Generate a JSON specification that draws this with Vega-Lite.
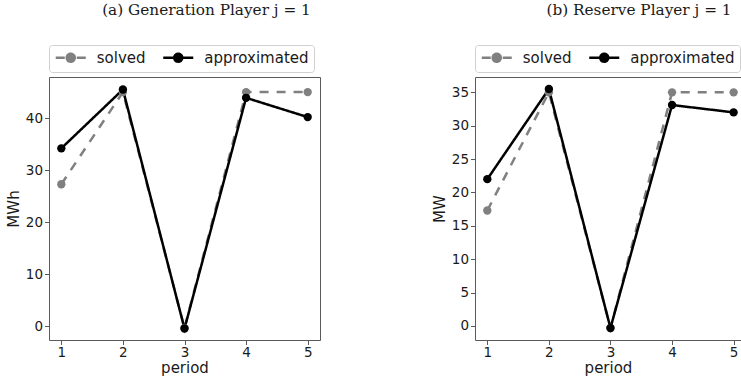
{
  "$schema": "https://vega.github.io/schema/vega-lite/v6.json",
  "padding": {"left": 5, "right": 0, "top": 2, "bottom": 2},
  "datasets": {
    "gen": [
      {"period": 1, "value": 27.3, "series": "solved"},
      {"period": 2, "value": 45.0, "series": "solved"},
      {"period": 3, "value": -0.3, "series": "solved"},
      {"period": 4, "value": 45.0, "series": "solved"},
      {"period": 5, "value": 45.0, "series": "solved"},
      {"period": 1, "value": 34.2, "series": "approximated"},
      {"period": 2, "value": 45.5, "series": "approximated"},
      {"period": 3, "value": -0.4, "series": "approximated"},
      {"period": 4, "value": 43.9, "series": "approximated"},
      {"period": 5, "value": 40.2, "series": "approximated"}
    ],
    "res": [
      {"period": 1, "value": 17.3, "series": "solved"},
      {"period": 2, "value": 35.0, "series": "solved"},
      {"period": 3, "value": -0.3, "series": "solved"},
      {"period": 4, "value": 35.0, "series": "solved"},
      {"period": 5, "value": 35.0, "series": "solved"},
      {"period": 1, "value": 22.0, "series": "approximated"},
      {"period": 2, "value": 35.5, "series": "approximated"},
      {"period": 3, "value": -0.3, "series": "approximated"},
      {"period": 4, "value": 33.1, "series": "approximated"},
      {"period": 5, "value": 32.0, "series": "approximated"}
    ]
  },
  "spacing": 110,
  "config": {
    "font": "DejaVu Sans",
    "view": {"stroke": "#5a5a5a", "strokeWidth": 1},
    "axis": {
      "grid": false, "domain": false, "tickColor": "#5a5a5a", "tickSize": 4.5,
      "labelFontSize": 13.5, "labelColor": "#1a1a1a", "labelPadding": 2,
      "titleFontSize": 15, "titleFontWeight": "normal", "titleColor": "#1a1a1a",
      "labelFont": "DejaVu Sans", "titleFont": "DejaVu Sans", "titlePadding": 4
    },
    "axisX": {"labelPadding": 1, "titlePadding": 1},
    "legend": {
      "orient": "top", "direction": "horizontal", "title": null,
      "symbolSize": 100, "symbolStrokeWidth": 2.5, "symbolOffset": 9.25,
      "labelOffset": 18.5, "columnPadding": 11.5, "padding": 5,
      "labelFontSize": 15, "labelFont": "DejaVu Sans", "labelColor": "#1a1a1a",
      "strokeColor": "#d0d0d0", "fillColor": "#ffffff", "cornerRadius": 3, "offset": 5
    },
    "title": {"font": "DejaVu Serif", "fontSize": 15.3, "fontWeight": "normal", "color": "#1a1a1a"}
  },
  "resolve": {"legend": {"color": "independent"}},
  "hconcat": [
    {
      "title": {"text": "(a) Generation Player j = 1", "dx": 22, "offset": 26},
      "width": 271, "height": 263,
      "data": {"name": "gen"},
      "mark": {"type": "line", "strokeWidth": 2.5, "point": {"filled": true, "size": 70}},
      "encoding": {
        "x": {"field": "period", "type": "quantitative", "scale": {"domain": [0.8, 5.2], "nice": false, "zero": false}, "axis": {"values": [1, 2, 3, 4, 5], "format": "d", "title": "period"}},
        "y": {"field": "value", "type": "quantitative", "scale": {"domain": [-2.6, 47.9], "nice": false, "zero": false}, "axis": {"values": [0, 10, 20, 30, 40], "title": "MWh"}},
        "color": {"field": "series", "type": "nominal", "sort": ["solved", "approximated"],
          "scale": {"domain": ["solved", "approximated"], "range": ["#808080", "#000000"]},
          "legend": {"encode": {"symbols": {"update": {
            "shape": [{"test": "datum.value === 'solved'", "value": "M-3,0L-1.2,0M1.2,0L3,0M0.8,0A0.8,0.8 0 1,1 -0.8,0A0.8,0.8 0 1,1 0.8,0Z"}, {"value": "M-3,0L3,0M0.8,0A0.8,0.8 0 1,1 -0.8,0A0.8,0.8 0 1,1 0.8,0Z"}],
            "fill": [{"test": "datum.value === 'solved'", "value": "#808080"}, {"value": "#000000"}],
            "strokeDash": {"value": [1, 0]}}}}}},
        "strokeDash": {"field": "series", "type": "nominal", "scale": {"domain": ["solved", "approximated"], "range": [[9, 8], [1, 0]]}, "legend": null}
      }
    },
    {
      "title": {"text": "(b) Reserve Player j = 1", "dx": 31, "offset": 26},
      "width": 266, "height": 263,
      "data": {"name": "res"},
      "mark": {"type": "line", "strokeWidth": 2.5, "point": {"filled": true, "size": 70}},
      "encoding": {
        "x": {"field": "period", "type": "quantitative", "scale": {"domain": [0.8, 5.12], "nice": false, "zero": false}, "axis": {"values": [1, 2, 3, 4, 5], "format": "d", "title": "period"}},
        "y": {"field": "value", "type": "quantitative", "scale": {"domain": [-2.1, 37.3], "nice": false, "zero": false}, "axis": {"values": [0, 5, 10, 15, 20, 25, 30, 35], "title": "MW"}},
        "color": {"field": "series", "type": "nominal", "sort": ["solved", "approximated"],
          "scale": {"domain": ["solved", "approximated"], "range": ["#808080", "#000000"]},
          "legend": {"encode": {"symbols": {"update": {
            "shape": [{"test": "datum.value === 'solved'", "value": "M-3,0L-1.2,0M1.2,0L3,0M0.8,0A0.8,0.8 0 1,1 -0.8,0A0.8,0.8 0 1,1 0.8,0Z"}, {"value": "M-3,0L3,0M0.8,0A0.8,0.8 0 1,1 -0.8,0A0.8,0.8 0 1,1 0.8,0Z"}],
            "fill": [{"test": "datum.value === 'solved'", "value": "#808080"}, {"value": "#000000"}],
            "strokeDash": {"value": [1, 0]}}}}}},
        "strokeDash": {"field": "series", "type": "nominal", "scale": {"domain": ["solved", "approximated"], "range": [[9, 8], [1, 0]]}, "legend": null}
      }
    }
  ]
}
